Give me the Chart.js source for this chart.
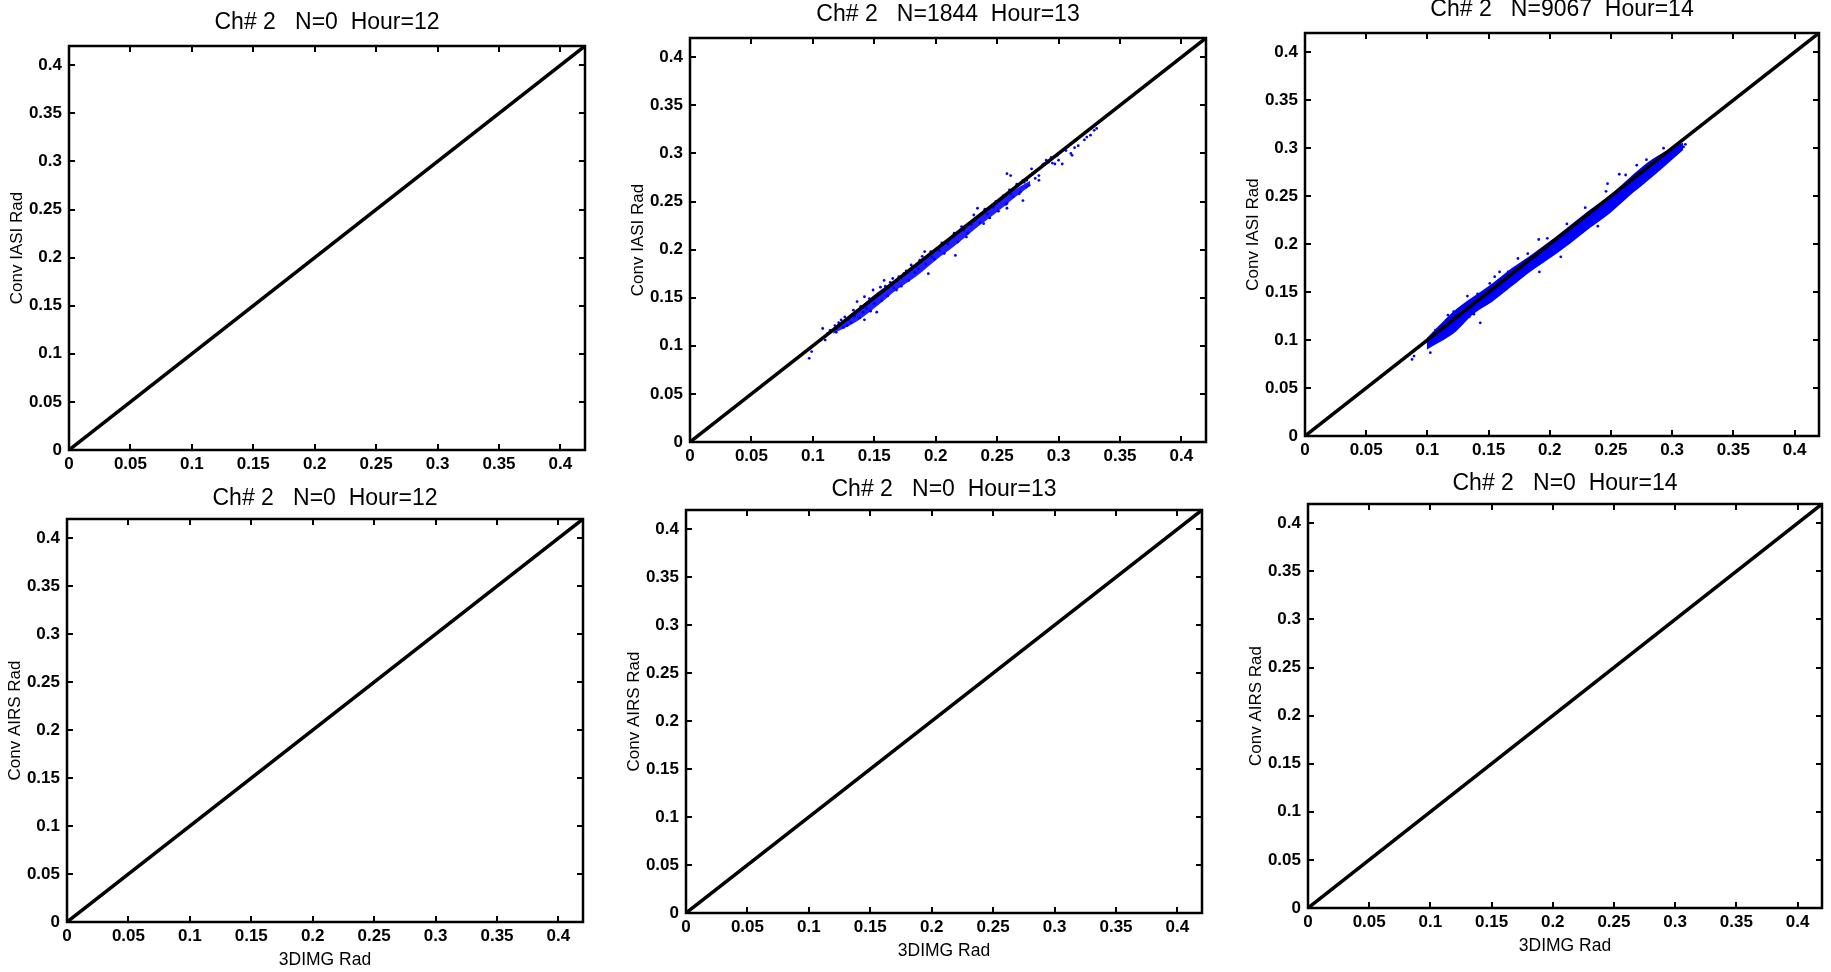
<!DOCTYPE html>
<html>
<head>
<meta charset="utf-8">
<script src="https://cdn.jsdelivr.net/npm/chart.js@4.4.1/dist/chart.umd.min.js"></script>
<style>
html,body{margin:0;padding:0;background:#fff;width:1831px;height:972px;overflow:hidden;position:relative;}
.pw{position:absolute;}
</style>
</head>
<body>
<script>
// ---------- DATA ----------
const tickValues = [0, 0.05, 0.1, 0.15, 0.2, 0.25, 0.3, 0.35, 0.4];
const tickLabels = ['0', '0.05', '0.1', '0.15', '0.2', '0.25', '0.3', '0.35', '0.4'];
const axisMin = 0;
const axisMax = 0.42;

const panelTitles = [
  'Ch# 2   N=0  Hour=12', 'Ch# 2   N=1844  Hour=13', 'Ch# 2   N=9067  Hour=14',
  'Ch# 2   N=0  Hour=12', 'Ch# 2   N=0  Hour=13', 'Ch# 2   N=0  Hour=14'
];
const yAxisLabels = ['Conv IASI Rad', 'Conv IASI Rad', 'Conv IASI Rad',
                     'Conv AIRS Rad', 'Conv AIRS Rad', 'Conv AIRS Rad'];
const xAxisLabels = ['', '', '', '3DIMG Rad', '3DIMG Rad', '3DIMG Rad'];

// 1:1 reference line
const diagX = [0, 0.42];
const diagY = [0, 0.42];

// Hour 13 (IASI) scattered points
const h13X = [0.097,0.099,0.108,0.110,0.112,0.118,0.123,0.126,0.128,0.133,0.136,0.142,0.142,0.149,0.152,0.155,0.158,0.165,0.168,0.174,0.181,0.187,0.191,0.194,0.197,0.203,0.210,0.216,0.215,0.223,0.226,0.232,0.234,0.239,0.242,0.247,0.252,0.258,0.261,0.265,0.269,0.258,0.261,0.271,0.276,0.277,0.284,0.278,0.287,0.290,0.294,0.297,0.300,0.303,0.310,0.311,0.316,0.321,0.326,0.329,0.331,0.323,0.284,0.274,0.271,0.258,
  0.114,0.119,0.121,0.125,0.129,0.131,0.134,0.138,0.139,0.141,0.144,0.146,0.147,0.150,0.153,0.156,0.159,0.161,0.163,0.166,0.170,0.172,0.176,0.178,0.180,0.183,0.186,0.189,0.192,0.196,0.199,0.205,0.207,0.212,0.218,0.221,0.225,0.229,0.231,0.236,0.240,0.244,0.249,0.251,0.255,0.257,0.260,0.263,0.266,0.268,0.272,0.274,0.279,0.281,0.288,0.292,0.295,0.299,0.306,0.313];
const h13Y = [0.087,0.094,0.118,0.106,0.113,0.121,0.127,0.130,0.121,0.137,0.146,0.151,0.127,0.158,0.135,0.161,0.168,0.170,0.158,0.175,0.182,0.189,0.198,0.175,0.192,0.199,0.206,0.194,0.217,0.220,0.217,0.230,0.243,0.227,0.237,0.244,0.251,0.248,0.258,0.265,0.260,0.279,0.277,0.272,0.267,0.277,0.272,0.284,0.288,0.293,0.296,0.289,0.293,0.289,0.300,0.298,0.308,0.314,0.319,0.324,0.326,0.317,0.277,0.272,0.251,0.243,
  0.116,0.114,0.124,0.119,0.127,0.124,0.131,0.129,0.141,0.135,0.139,0.149,0.136,0.144,0.154,0.147,0.162,0.152,0.166,0.160,0.172,0.162,0.178,0.168,0.184,0.176,0.180,0.193,0.185,0.198,0.190,0.207,0.196,0.212,0.208,0.224,0.213,0.226,0.236,0.228,0.242,0.233,0.250,0.240,0.256,0.247,0.262,0.255,0.268,0.258,0.270,0.265,0.279,0.274,0.289,0.291,0.290,0.298,0.303,0.306];
// Hour 13 dense core of the cloud (upper / lower edges)
const h13BandX     = [0.1165,0.136,0.152,0.168,0.184,0.200,0.216,0.232,0.248,0.2646,0.277];
const h13BandUpper = [0.1185,0.138,0.155,0.1695,0.1845,0.2005,0.216,0.2315,0.2465,0.2625,0.2715];
const h13BandLower = [0.1125,0.1255,0.141,0.158,0.172,0.189,0.2045,0.2215,0.237,0.2545,0.2665];

// Hour 14 (IASI) points along the edges / outliers of the cloud
const h14X = [0.0875,0.0891,0.0993,0.1024,0.1066,0.1168,0.1215,0.1327,0.1432,0.155,0.159,0.174,0.1915,0.191,0.209,0.2472,0.2568,0.2393,0.2711,0.3093,0.3108,0.2727,0.2965,0.1343,
  0.105,0.112,0.116,0.125,0.128,0.138,0.141,0.148,0.151,0.163,0.166,0.178,0.182,0.194,0.198,0.212,0.214,0.226,0.229,0.243,0.246,0.258,0.262,0.276,0.279,0.289,0.293,0.302];
const h14Y = [0.0798,0.0833,0.0982,0.0868,0.1104,0.126,0.1295,0.1458,0.118,0.166,0.171,0.185,0.171,0.2048,0.1867,0.263,0.2728,0.2187,0.2822,0.3013,0.304,0.2735,0.296,0.1243,
  0.101,0.104,0.121,0.117,0.133,0.127,0.148,0.139,0.159,0.153,0.171,0.167,0.190,0.182,0.206,0.199,0.221,0.212,0.238,0.229,0.255,0.246,0.272,0.264,0.288,0.281,0.300,0.294];
// Hour 14 solid cloud (upper / lower edges)
const h14BandX     = [0.0995,0.1215,0.1374,0.153,0.169,0.185,0.201,0.217,0.233,0.249,0.265,0.281,0.2965,0.309];
const h14BandUpper = [0.102,0.130,0.145,0.159,0.175,0.189,0.204,0.220,0.236,0.251,0.269,0.286,0.298,0.306];
const h14BandLower = [0.090,0.107,0.127,0.140,0.156,0.172,0.186,0.201,0.217,0.232,0.250,0.267,0.284,0.298];

// ---------- LAYOUT / STYLE ----------
const panelBoxes = [
  {l: 69,   t: 46,  w: 516, h: 404, tp: 3}, {l: 690,  t: 38,  w: 516, h: 404, tp: 3}, {l: 1305, t: 33,  w: 514, h: 403, tp: 3},
  {l: 67,   t: 519, w: 516, h: 403, tp: 6}, {l: 686,  t: 510, w: 516, h: 403, tp: 6}, {l: 1308, t: 504, w: 514, h: 404, tp: 6}
];
const YW = 64, TH = 40, XH = 50, RP = 20;
const TICK = 6;
const FONT = "'Liberation Sans',Arial,Helvetica,sans-serif";
const BLUE = '#0000ff';

Chart.defaults.color = '#000';

function zip(xs, ys) { return xs.map((x, i) => ({x: x, y: ys[i]})); }

const axesBox = {
  id: 'axesBox',
  afterDatasetsDraw(chart) {
    const {ctx, chartArea: a, scales: {x, y}} = chart;
    ctx.save();
    ctx.strokeStyle = '#000';
    ctx.lineWidth = 2;
    ctx.beginPath();
    tickValues.forEach(v => {
      const px = Math.round(x.getPixelForValue(v));
      ctx.moveTo(px, a.bottom); ctx.lineTo(px, a.bottom - TICK);
      ctx.moveTo(px, a.top); ctx.lineTo(px, a.top + TICK);
      const py = Math.round(y.getPixelForValue(v));
      ctx.moveTo(a.left, py); ctx.lineTo(a.left + TICK, py);
      ctx.moveTo(a.right, py); ctx.lineTo(a.right - TICK, py);
    });
    ctx.stroke();
    ctx.lineWidth = 2.5;
    ctx.strokeRect(a.left, a.top, a.right - a.left, a.bottom - a.top);
    ctx.restore();
  }
};

const scatterSets = {
  1: {pts: zip(h13X, h13Y), bx: h13BandX, bu: h13BandUpper, bl: h13BandLower, fill: 'rgba(0,0,255,0.88)'},
  2: {pts: zip(h14X, h14Y), bx: h14BandX, bu: h14BandUpper, bl: h14BandLower, fill: 'rgba(0,0,255,1)'}
};

function tickCb(value, index) { return tickLabels[index]; }
function setTicks(scale) { scale.ticks = tickValues.map(v => ({value: v})); }

function makePanel(i) {
  const box = panelBoxes[i];
  const W = YW + box.w + RP, H = TH + box.h + XH;
  const wrap = document.createElement('div');
  wrap.className = 'pw';
  wrap.style.left = (box.l - YW) + 'px';
  wrap.style.top = (box.t - TH) + 'px';
  wrap.style.width = W + 'px';
  wrap.style.height = H + 'px';
  const cv = document.createElement('canvas');
  cv.width = W; cv.height = H;
  cv.style.width = W + 'px'; cv.style.height = H + 'px';
  wrap.appendChild(cv);
  document.body.appendChild(wrap);

  const datasets = [{
    type: 'line', data: zip(diagX, diagY), borderColor: '#000', borderWidth: 3.5,
    pointRadius: 0, fill: false, tension: 0
  }];
  const s = scatterSets[i];
  if (s) {
    datasets.push({
      type: 'scatter', data: s.pts, pointRadius: 1.4, pointBackgroundColor: BLUE,
      pointBorderWidth: 0, backgroundColor: BLUE, borderColor: BLUE
    });
    datasets.push({
      type: 'line', data: zip(s.bx, s.bu), borderWidth: 0, pointRadius: 0,
      backgroundColor: s.fill, borderColor: 'rgba(0,0,0,0)', fill: '+1', tension: 0.3
    });
    datasets.push({
      type: 'line', data: zip(s.bx, s.bl), borderWidth: 0, pointRadius: 0,
      backgroundColor: s.fill, borderColor: 'rgba(0,0,0,0)', fill: false, tension: 0.3
    });
  }

  new Chart(cv, {
    type: 'scatter',
    data: {datasets},
    plugins: [axesBox],
    options: {
      responsive: false, animation: false, events: [],
      layout: {padding: {left: 0, top: 0, right: RP, bottom: 0}},
      plugins: {
        legend: {display: false}, tooltip: {enabled: false},
        title: {
          display: true, fullSize: false, text: panelTitles[i], color: '#000',
          font: {family: FONT, size: 23, weight: 'normal', lineHeight: 1.2},
          padding: {top: box.tp, bottom: 12.4 - box.tp}
        }
      },
      scales: {
        x: {
          type: 'linear', min: axisMin, max: axisMax,
          afterBuildTicks: setTicks,
          afterFit: sc => { sc.height = XH; },
          grid: {display: false, drawTicks: false},
          border: {display: false},
          ticks: {callback: tickCb, autoSkip: false, maxRotation: 0, padding: 4,
                  font: {family: FONT, size: 17, weight: 'bold'}, color: '#000'},
          title: {display: !!xAxisLabels[i], text: xAxisLabels[i], color: '#000',
                  font: {family: FONT, size: 17.5}, padding: {top: 0, bottom: 1}}
        },
        y: {
          type: 'linear', min: axisMin, max: axisMax,
          afterBuildTicks: setTicks,
          afterFit: sc => { sc.width = YW; },
          grid: {display: false, drawTicks: false},
          border: {display: false},
          ticks: {callback: tickCb, autoSkip: false, padding: 7,
                  font: {family: FONT, size: 17, weight: 'bold'}, color: '#000'},
          title: {display: true, text: yAxisLabels[i], color: '#000',
                  font: {family: FONT, size: 17}, padding: {top: 2.5, bottom: 0}}
        }
      }
    }
  });
}

for (let i = 0; i < 6; i++) makePanel(i);
</script>
</body>
</html>
